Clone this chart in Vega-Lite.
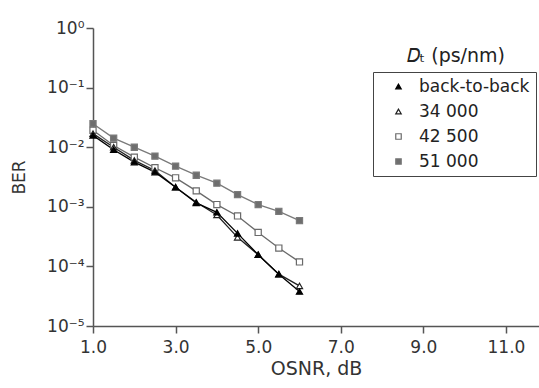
{
  "$schema": "https://vega.github.io/schema/vega-lite/v6.json",
  "width": 446,
  "height": 298,
  "autosize": "none",
  "padding": {"left": 93, "top": 28, "right": 0, "bottom": 62},
  "background": "white",
  "config": {
    "view": {"stroke": null},
    "font": "DejaVu Sans",
    "legend": {
      "strokeColor": "#444",
      "padding": 6,
      "labelFontSize": 17,
      "labelColor": "#222",
      "labelFont": "DejaVu Sans",
      "rowPadding": 7,
      "symbolSize": 30,
      "symbolOffset": 11,
      "labelOffset": 12,
      "symbolStrokeWidth": 1.2
    }
  },
  "title": {
    "text": "𝐷ₜ (ps/nm)",
    "anchor": "end",
    "frame": "group",
    "baseline": "alphabetic",
    "offset": 0,
    "dy": 62,
    "dx": -34,
    "fontSize": 19,
    "fontWeight": "normal",
    "color": "#222",
    "font": "DejaVu Sans"
  },
  "data": {
    "values": [
      {"series": "51 000", "osnr": 1.0, "ber": 0.0248},
      {"series": "51 000", "osnr": 1.5, "ber": 0.0142},
      {"series": "51 000", "osnr": 2.0, "ber": 0.0100},
      {"series": "51 000", "osnr": 2.5, "ber": 0.00708},
      {"series": "51 000", "osnr": 3.0, "ber": 0.00481},
      {"series": "51 000", "osnr": 3.5, "ber": 0.00339},
      {"series": "51 000", "osnr": 4.0, "ber": 0.00249},
      {"series": "51 000", "osnr": 4.5, "ber": 0.00160},
      {"series": "51 000", "osnr": 5.0, "ber": 0.00109},
      {"series": "51 000", "osnr": 5.5, "ber": 0.000839},
      {"series": "51 000", "osnr": 6.0, "ber": 0.000586},
      {"series": "42 500", "osnr": 1.0, "ber": 0.0192},
      {"series": "42 500", "osnr": 1.5, "ber": 0.0107},
      {"series": "42 500", "osnr": 2.0, "ber": 0.00681},
      {"series": "42 500", "osnr": 2.5, "ber": 0.00452},
      {"series": "42 500", "osnr": 3.0, "ber": 0.00306},
      {"series": "42 500", "osnr": 3.5, "ber": 0.00185},
      {"series": "42 500", "osnr": 4.0, "ber": 0.00109},
      {"series": "42 500", "osnr": 4.5, "ber": 0.000703},
      {"series": "42 500", "osnr": 5.0, "ber": 0.000372},
      {"series": "42 500", "osnr": 5.5, "ber": 0.000203},
      {"series": "42 500", "osnr": 6.0, "ber": 0.000119},
      {"series": "34 000", "osnr": 1.0, "ber": 0.0169},
      {"series": "34 000", "osnr": 1.5, "ber": 0.0100},
      {"series": "34 000", "osnr": 2.0, "ber": 0.0060},
      {"series": "34 000", "osnr": 2.5, "ber": 0.00406},
      {"series": "34 000", "osnr": 3.0, "ber": 0.00213},
      {"series": "34 000", "osnr": 3.5, "ber": 0.00119},
      {"series": "34 000", "osnr": 4.0, "ber": 0.00073},
      {"series": "34 000", "osnr": 4.5, "ber": 0.000307},
      {"series": "34 000", "osnr": 5.0, "ber": 0.000157},
      {"series": "34 000", "osnr": 5.5, "ber": 0.0000741},
      {"series": "34 000", "osnr": 6.0, "ber": 0.0000471},
      {"series": "back-to-back", "osnr": 1.0, "ber": 0.0158},
      {"series": "back-to-back", "osnr": 1.5, "ber": 0.00908},
      {"series": "back-to-back", "osnr": 2.0, "ber": 0.00561},
      {"series": "back-to-back", "osnr": 2.5, "ber": 0.00381},
      {"series": "back-to-back", "osnr": 3.0, "ber": 0.00213},
      {"series": "back-to-back", "osnr": 3.5, "ber": 0.00116},
      {"series": "back-to-back", "osnr": 4.0, "ber": 0.000809},
      {"series": "back-to-back", "osnr": 4.5, "ber": 0.000358},
      {"series": "back-to-back", "osnr": 5.0, "ber": 0.000157},
      {"series": "back-to-back", "osnr": 5.5, "ber": 0.0000741},
      {"series": "back-to-back", "osnr": 6.0, "ber": 0.0000379}
    ]
  },
  "encoding": {
    "x": {
      "field": "osnr",
      "type": "quantitative",
      "scale": {"domain": [1, 11.8], "nice": false, "zero": false},
      "axis": {
        "values": [1, 3, 5, 7, 9, 11],
        "format": ".1f",
        "title": "OSNR, dB",
        "grid": false,
        "domainColor": "#555",
        "domainWidth": 1.5,
        "tickColor": "#555",
        "tickWidth": 1.5,
        "tickSize": 7,
        "labelPadding": 6,
        "labelFontSize": 17,
        "labelColor": "#333",
        "labelFont": "DejaVu Sans",
        "labelFlush": false,
        "titleFontSize": 19,
        "titleFontWeight": "normal",
        "titleColor": "#333",
        "titleFont": "DejaVu Sans",
        "titlePadding": 4
      }
    },
    "y": {
      "field": "ber",
      "type": "quantitative",
      "scale": {"type": "log", "domain": [0.00001, 1], "nice": false},
      "axis": {
        "values": [1, 0.1, 0.01, 0.001, 0.0001, 0.00001],
        "labelExpr": "datum.value >= 0.5 ? '10⁰' : datum.value >= 0.05 ? '10⁻¹' : datum.value >= 0.005 ? '10⁻²' : datum.value >= 0.0005 ? '10⁻³' : datum.value >= 0.00005 ? '10⁻⁴' : '10⁻⁵'",
        "title": "BER",
        "grid": false,
        "domainColor": "#555",
        "domainWidth": 1.5,
        "tickColor": "#555",
        "tickWidth": 1.5,
        "tickSize": 7,
        "labelPadding": 2,
        "labelFontSize": 17,
        "labelColor": "#333",
        "labelFont": "DejaVu Sans",
        "labelFlush": false,
        "titleFontSize": 17,
        "titleFontWeight": "normal",
        "titleColor": "#333",
        "titleFont": "DejaVu Sans",
        "titlePadding": 18
      }
    }
  },
  "layer": [
    {
      "mark": {"type": "line", "strokeWidth": 1.3},
      "encoding": {
        "color": {
          "field": "series",
          "type": "nominal",
          "scale": {"domain": ["51 000", "42 500", "34 000", "back-to-back"], "range": ["#7a7a7a", "#6a6a6a", "#222222", "#000000"]},
          "legend": null
        }
      }
    },
    {
      "mark": {"type": "point", "size": 38, "strokeWidth": 1.2, "opacity": 1},
      "encoding": {
        "stroke": {
          "field": "series",
          "type": "nominal",
          "scale": {"domain": ["back-to-back", "34 000", "42 500", "51 000"], "range": ["#000000", "#222222", "#6a6a6a", "#7a7a7a"]},
          "legend": {
            "title": null,
            "orient": "none",
            "legendX": 280,
            "legendY": 44,
            "encode": {
              "symbols": {
                "shape": {"value": {"expr": "datum.value === 'back-to-back' ? 'M-6.2,0H6.2M0,-1.1L1.15,0.9H-1.15Z' : datum.value === '34 000' ? 'M-6.2,0H-0.6M0.6,0H6.2M0,-1.1L1.15,0.9H-1.15Z' : datum.value === '42 500' ? 'M-6.2,0H-1M1,0H6.2M-1,-1H1V1H-1Z' : 'M-6.2,0H6.2M-1,-1H1V1H-1Z'"}}
              }
            }
          }
        },
        "fill": {
          "field": "series",
          "type": "nominal",
          "scale": {"domain": ["back-to-back", "34 000", "42 500", "51 000"], "range": ["#000000", "#ffffff", "#ffffff", "#6e6e6e"]},
          "legend": {
            "title": null,
            "orient": "none",
            "legendX": 280,
            "legendY": 44,
            "encode": {
              "symbols": {
                "shape": {"value": {"expr": "datum.value === 'back-to-back' ? 'M-6.2,0H6.2M0,-1.1L1.15,0.9H-1.15Z' : datum.value === '34 000' ? 'M-6.2,0H-0.6M0.6,0H6.2M0,-1.1L1.15,0.9H-1.15Z' : datum.value === '42 500' ? 'M-6.2,0H-1M1,0H6.2M-1,-1H1V1H-1Z' : 'M-6.2,0H6.2M-1,-1H1V1H-1Z'"}}
              }
            }
          }
        },
        "shape": {
          "field": "series",
          "type": "nominal",
          "scale": {"domain": ["back-to-back", "34 000", "42 500", "51 000"], "range": ["triangle-up", "triangle-up", "square", "square"]},
          "legend": {
            "title": null,
            "orient": "none",
            "legendX": 280,
            "legendY": 44,
            "encode": {
              "symbols": {
                "shape": {"value": {"expr": "datum.value === 'back-to-back' ? 'M-6.2,0H6.2M0,-1.1L1.15,0.9H-1.15Z' : datum.value === '34 000' ? 'M-6.2,0H-0.6M0.6,0H6.2M0,-1.1L1.15,0.9H-1.15Z' : datum.value === '42 500' ? 'M-6.2,0H-1M1,0H6.2M-1,-1H1V1H-1Z' : 'M-6.2,0H6.2M-1,-1H1V1H-1Z'"}}
              }
            }
          }
        }
      }
    }
  ]
}
